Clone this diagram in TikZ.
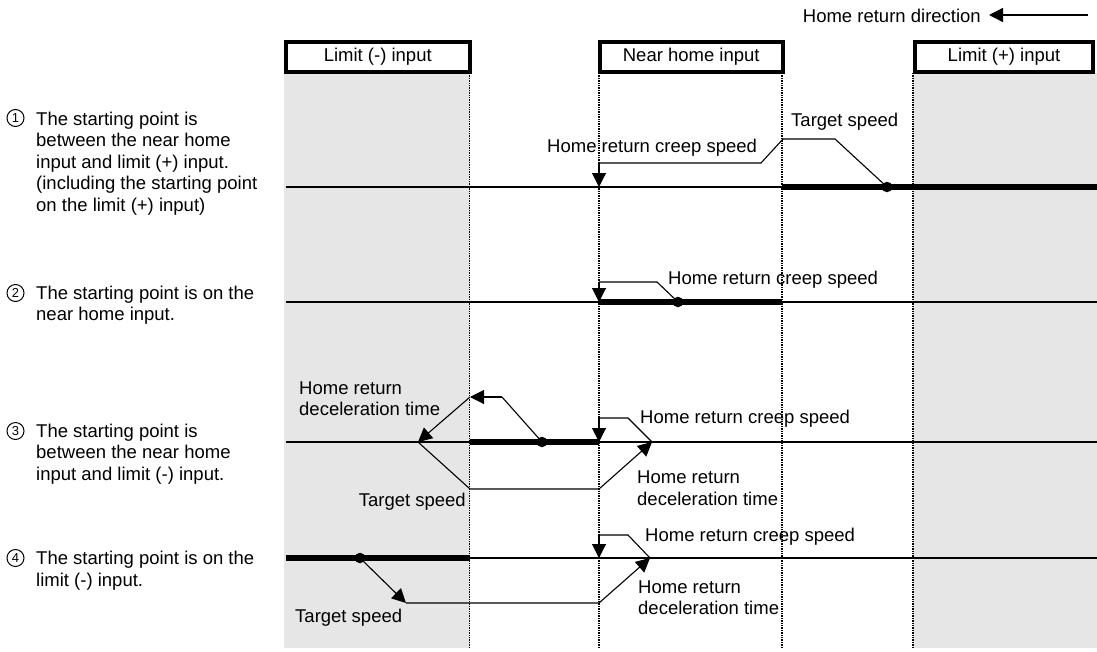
\documentclass[tikz,border=0pt]{standalone}
\usepackage{fontspec}
\setmainfont{Liberation Sans}
\usetikzlibrary{arrows.meta}
\definecolor{zonegray}{HTML}{E6E6E6}
\begin{document}
\begin{tikzpicture}[x=1pt,y=-1pt,
  lbl/.style={font=\fontsize{18.5}{21.5}\selectfont, inner sep=0pt, align=left, anchor=base west},
  num/.style={draw, circle, line width=1pt, inner sep=0pt, minimum size=17pt, font=\fontsize{13}{13}\selectfont},
  hdr/.style={draw, line width=4pt, inner sep=0pt, minimum height=29.5pt, font=\fontsize{18.5}{21.5}\selectfont},
  axisline/.style={line width=2.6pt},
  runline/.style={line width=6.2pt},
  prof/.style={line width=1.1pt},
  arr/.style={-{Triangle[length=14pt,width=14pt]}},
  vdots/.style={line width=1.6pt, dash pattern=on 1.3pt off 1.1pt},
  pt/.style={circle, fill, inner sep=0pt, minimum size=10.5pt}
]
\useasboundingbox (0,0) rectangle (1097,651);
% shaded limit zones
\fill[zonegray] (284,73) rectangle (469.5,648);
\fill[zonegray] (913,73) rectangle (1097,648);
% header boxes
\node[hdr, minimum width=183.5pt] (limm) at (377.75,57) {Limit (-) input};
\node[hdr, minimum width=182.5pt] (near) at (691.25,57) {Near home input};
\node[hdr, minimum width=178pt] (limp) at (1004,57) {Limit (+) input};
% direction
\node[lbl, anchor=base east] (dir) at (981,22) {Home return direction};
\coordinate (dirA) at (1088,15);
\coordinate (dirB) at (989,15);
\draw[prof, arr, line width=1.4pt] (dirA) -- (dirB);
% vertical dotted boundaries
\coordinate (v1t) at (469.5,73); \coordinate (v1b) at (469.5,648);
\coordinate (v2t) at (599,73);   \coordinate (v2b) at (599,648);
\coordinate (v3t) at (782,73);   \coordinate (v3b) at (782,648);
\coordinate (v4t) at (913,73);   \coordinate (v4b) at (913,648);
\draw[vdots] (v1t) -- (v1b);
\draw[vdots] (v2t) -- (v2b);
\draw[vdots] (v3t) -- (v3b);
\draw[vdots] (v4t) -- (v4b);
% axes
\foreach \yy/\nm in {187/a1,302/a2,442/a3,558/a4}{
  \coordinate (\nm l) at (286,\yy);
  \coordinate (\nm r) at (1097,\yy);
  \draw[axisline] (\nm l) -- (\nm r);
}
% ---------- row 1
\draw[runline] (782,187) -- (a1r);
\node[pt] (s1) at (887,187) {};
\coordinate (r1a) at (835,139);
\coordinate (r1b) at (783,139);
\coordinate (r1c) at (761,163);
\coordinate (r1d) at (599,163);
\coordinate (r1e) at (599,187);
\draw[prof] (s1.center) -- (r1a) -- (r1b) -- (r1c) -- (r1d);
\draw[prof, arr] (r1d) -- (r1e);
\node[lbl] (t1) at (791,126.5) {Target speed};
\node[lbl] (c1) at (547,152) {Home return creep speed};
% ---------- row 2
\draw[runline] (599,302) -- (782,302);
\node[pt] (s2) at (678,302) {};
\coordinate (r2a) at (657,282);
\coordinate (r2b) at (599,282);
\coordinate (r2c) at (599,302);
\draw[prof] (s2.center) -- (r2a) -- (r2b);
\draw[prof, arr] (r2b) -- (r2c);
\node[lbl] (c2) at (668,284) {Home return creep speed};
% ---------- row 3
\draw[runline] (469.5,442) -- (599,442);
\node[pt] (s3) at (542,442) {};
\coordinate (r3a) at (502,397);
\coordinate (r3b) at (470,397);
\coordinate (r3c) at (418,442);
\coordinate (r3d) at (470,489);
\coordinate (r3e) at (599,489);
\coordinate (r3f) at (652,442);
\coordinate (r3g) at (628,418);
\coordinate (r3h) at (599,418);
\coordinate (r3i) at (599,442);
\draw[prof] (s3.center) -- (r3a);
\draw[prof, arr] (r3a) -- (r3b);
\draw[prof, arr] (r3b) -- (r3c);
\draw[prof, arr] (r3c) -- (r3d) -- (r3e) -- (r3f);
\draw[prof] (r3f) -- (r3g) -- (r3h);
\draw[prof, arr] (r3h) -- (r3i);
\node[lbl] (d3l) at (299,415.5) {Home return\\deceleration time};
\node[lbl] (c3) at (640,423) {Home return creep speed};
\node[lbl] (d3r) at (637,505) {Home return\\deceleration time};
\node[lbl, anchor=base east] (t3) at (466,506.5) {Target speed};
% ---------- row 4
\draw[runline] (a4l) -- (469.5,558);
\node[pt] (s4) at (360,558) {};
\coordinate (r4a) at (406,603);
\coordinate (r4b) at (599,603);
\coordinate (r4c) at (650,558);
\coordinate (r4d) at (628,535);
\coordinate (r4e) at (599,535);
\coordinate (r4f) at (599,558);
\draw[prof, arr] (s4.center) -- (r4a);
\draw[prof, arr] (r4a) -- (r4b) -- (r4c);
\draw[prof] (r4c) -- (r4d) -- (r4e);
\draw[prof, arr] (r4e) -- (r4f);
\node[lbl] (c4) at (645,541) {Home return creep speed};
\node[lbl] (d4) at (638,614.5) {Home return\\deceleration time};
\node[lbl] (t4) at (295,622) {Target speed};
% ---------- left descriptions
\node[num] (n1) at (15.5,118) {1};
\node[lbl] (L1) at (36,211) {The starting point is\\between the near home\\input and limit (+) input.\\(including the starting point\\on the limit (+) input)};
\node[num] (n2) at (15.5,293) {2};
\node[lbl] (L2) at (36,320.5) {The starting point is on the\\near home input.};
\node[num] (n3) at (15.5,431) {3};
\node[lbl] (L3) at (36,480) {The starting point is\\between the near home\\input and limit (-) input.};
\node[num] (n4) at (15.5,558) {4};
\node[lbl] (L4) at (36,586) {The starting point is on the\\limit (-) input.};
\end{tikzpicture}
\end{document}
